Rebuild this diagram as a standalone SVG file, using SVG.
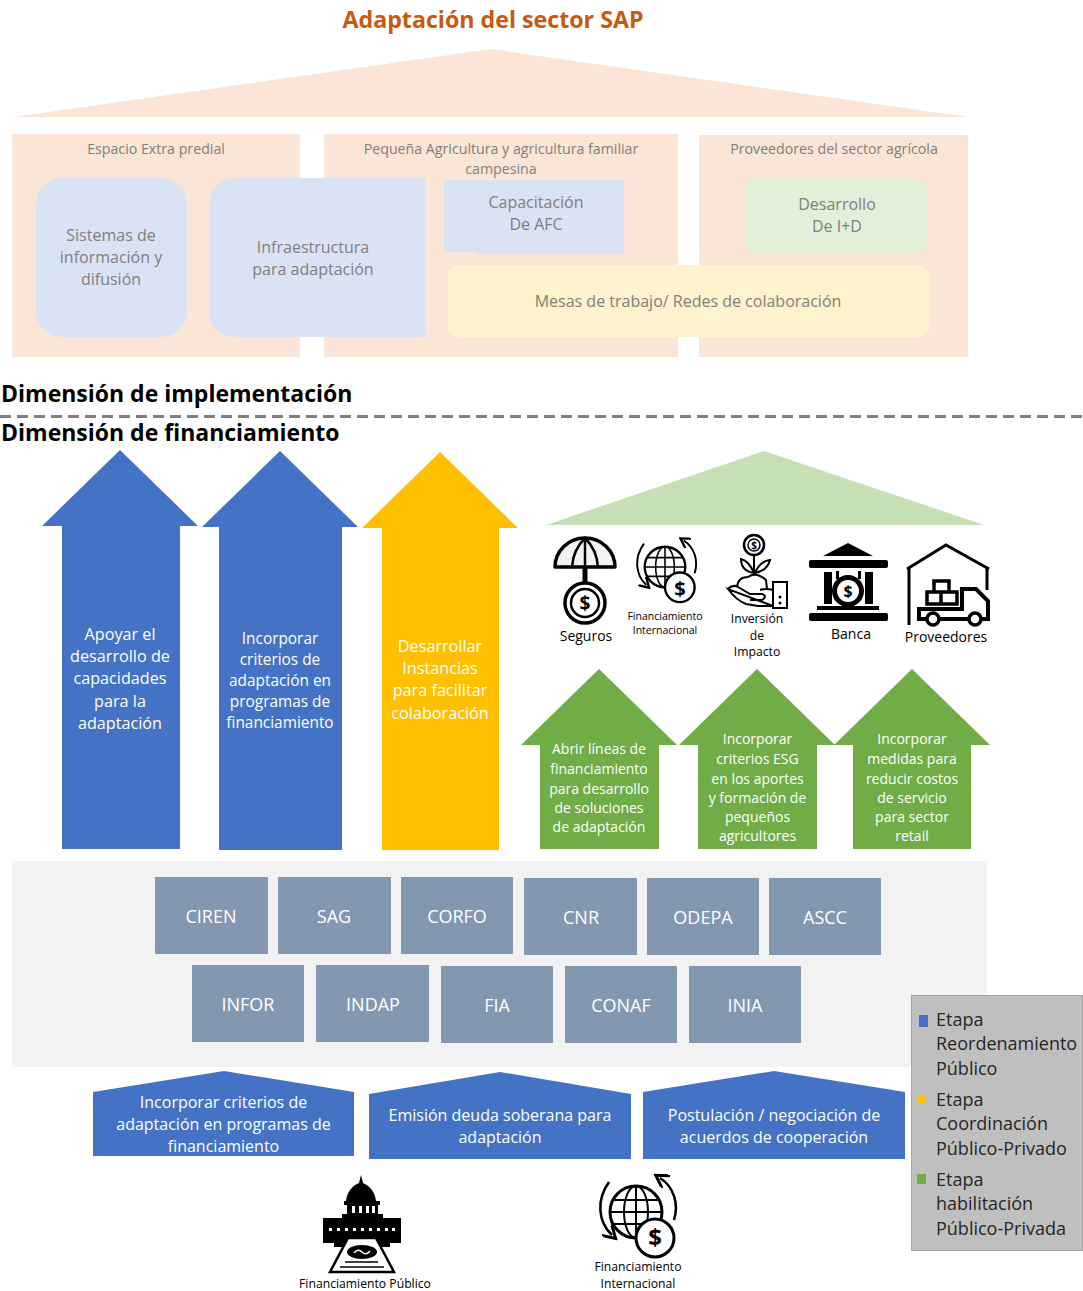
<svg xmlns="http://www.w3.org/2000/svg" width="1083" height="1291" viewBox="0 0 1083 1291">
<style>
text{font-family:"Open Sans","Noto Sans","Liberation Sans",sans-serif;text-anchor:middle}
.g{fill:#7f7f7f;font-size:16px}
.h{fill:#7f7f7f;font-size:14.2px}
.w{fill:#fff;font-size:16px}
.a1{fill:#fff;font-size:16.2px}
.a2{fill:#fff;font-size:15.4px}
.a3{fill:#fff;font-size:16.2px}
.gw{fill:#fff;font-size:14px}
.k{fill:#000;font-size:14px}
.s{fill:#000;font-size:10.500px}
.m{fill:#000;font-size:12.200px}
.d{fill:#000;font-size:23px;font-weight:700;text-anchor:start}
.l{fill:#262626;font-size:18px;text-anchor:start}
.c{fill:#fff;font-size:18px}
.box{fill:#8497b0}
.blue{fill:#4472c4}.yel{fill:#ffc000}.grn{fill:#70ad47}
.i{fill:none;stroke:#000;stroke-width:3}
.t{fill:#000;stroke:none}
.usd{fill:#000;font-weight:700}
</style>
<defs>
<marker id="ah" markerWidth="6" markerHeight="6" refX="3" refY="3" orient="auto"><path d="M0,0L5,3L0,6" fill="none" stroke="#000" stroke-width="1.200"/></marker>
<g id="globe">
<circle cx="0" cy="0" r="26" class="i"/>
<ellipse cx="0" cy="0" rx="12" ry="26" fill="none" stroke="#000" stroke-width="2"/>
<path d="M0,-26V26M-26,0H26M-23,-12H23M-23,12H23" fill="none" stroke="#000" stroke-width="2"/>
<path d="M-27,-30C-40,-12-38,10-24,23" fill="none" stroke="#000" stroke-width="2.500" marker-end="url(#ah)"/>
<path d="M38,8C43,-8 38,-25 24,-34" fill="none" stroke="#000" stroke-width="2.500" marker-end="url(#ah)"/>
<circle cx="19" cy="26" r="19" fill="#fff" stroke="#000" stroke-width="3"/>
</g>
</defs>
<text x="493" y="28" font-weight="700" fill="#c55a11" style="font-size:23.200px">Adaptación del sector SAP</text>
<g id="top-roof"><polygon points="14,117 491,49 968,117" fill="#fbe5d6"/></g>
<g id="panel-extra"><rect x="12" y="134" width="288" height="223" fill="#fbe5d6"/><text class="h" x="156" y="154">Espacio Extra predial</text></g>
<g id="panel-pequena"><rect x="324" y="134" width="354" height="223" fill="#fbe5d6"/><text class="h" x="501" y="154">Pequeña Agricultura y agricultura familiar</text><text class="h" x="501" y="174">campesina</text></g>
<g id="panel-proveedores"><rect x="699" y="135" width="269" height="222" fill="#fbe5d6"/><text class="h" x="834" y="154">Proveedores del sector agrícola</text></g>
<g id="sistemas"><rect x="36" y="178" width="151" height="159" rx="26" fill="#dae3f3"/><text class="g" x="111" y="241">Sistemas de</text><text class="g" x="111" y="263">información y</text><text class="g" x="111" y="285">difusión</text></g>
<g id="infraestructura"><path d="M235,178H426V337H235A26,26 0 0 1 209,311V204A26,26 0 0 1 235,178Z" fill="#dae3f3"/><text class="g" x="313" y="253">Infraestructura</text><text class="g" x="313" y="275">para adaptación</text></g>
<g id="capacitacion"><path d="M444,180H624V254H476V252H444Z" fill="#dae3f3"/><text class="g" x="536" y="208">Capacitación</text><text class="g" x="536" y="230">De AFC</text></g>
<g id="desarrollo"><rect x="746" y="178" width="181" height="75" rx="10" fill="#e2f0d9"/><text class="g" x="837" y="210">Desarrollo</text><text class="g" x="837" y="232">De I+D</text></g>
<g id="mesas"><rect x="448" y="265" width="481" height="72" rx="10" fill="#fff2cc"/><text class="g" x="688" y="307">Mesas de trabajo/ Redes de colaboración</text></g>
<text class="d" x="1" y="402">Dimensión de implementación</text>
<g id="connectors"><line x1="0" y1="416.500" x2="1083" y2="416.500" stroke="#7f7f7f" stroke-width="3" stroke-dasharray="11 6"/></g>
<text class="d" x="1" y="441">Dimensión de financiamiento</text>

<g id="arrow-1"><polygon class="blue" points="120,450 198,526 180,526 180,849 62,849 62,526 42,526"/><text class="a1" x="120" y="640">Apoyar el</text><text class="a1" x="120" y="662">desarrollo de</text><text class="a1" x="120" y="684">capacidades</text><text class="a1" x="120" y="707">para la</text><text class="a1" x="120" y="729">adaptación</text></g>
<g id="arrow-2"><polygon class="blue" points="280,451 358,527 342,527 342,850 219,850 219,527 202,527"/><text class="a2" x="280" y="644">Incorporar</text><text class="a2" x="280" y="665">criterios de</text><text class="a2" x="280" y="686">adaptación en</text><text class="a2" x="280" y="707">programas de</text><text class="a2" x="280" y="728">financiamiento</text></g>
<g id="arrow-3"><polygon class="yel" points="440,452 518,528 499,528 499,850 382,850 382,528 362,528"/><text class="a3" x="440" y="652">Desarrollar</text><text class="a3" x="440" y="674">Instancias</text><text class="a3" x="440" y="696">para facilitar</text><text class="a3" x="440" y="719">colaboración</text></g>
<g id="green-roof"><polygon points="764,451 984,525 546,525" fill="#c5e0b4"/></g>

<g id="seguros">
<path d="M555,567A30,29 0 0 1 615,567Z" fill="#f2f2f2" stroke="#000" stroke-width="3.500" stroke-linejoin="round"/>
<path d="M585,538V567M572,567Q573,550 585,538Q597,550 598,567" fill="none" stroke="#000" stroke-width="2.500"/>
<path d="M585,567V582" fill="none" stroke="#000" stroke-width="5"/>
<circle cx="585" cy="603" r="20" fill="#fff" stroke="#000" stroke-width="3.500"/><circle cx="585" cy="603" r="14" fill="none" stroke="#000" stroke-width="2.500"/>
<text class="usd" x="585" y="610" style="font-size:19px">$</text>
<text class="k" x="586" y="641">Seguros</text></g>
<g id="fin-int-1"><use href="#globe" transform="translate(665,567) scale(.78)"/><text class="usd" x="680" y="596" style="font-size:20px">$</text>
<text class="s" x="665" y="620">Financiamiento</text><text class="s" x="665" y="634">Internacional</text></g>
<g id="inversion">
<circle cx="754" cy="545" r="10" fill="#fff" stroke="#000" stroke-width="2.500"/><circle cx="754" cy="545" r="6" fill="none" stroke="#000" stroke-width="1.500"/>
<text class="usd" x="754" y="549" style="font-size:10px">$</text>
<path d="M754,555V578M754,573Q749,561 741,559Q741,571 754,573M755,573Q760,561 770,560Q767,571 755,573" fill="#fff" stroke="#000" stroke-width="2"/>
<path d="M737,587Q738,577 748,577Q756,571 766,580L767,589" fill="#fff" stroke="#000" stroke-width="2"/>
<path d="M728,589Q733,584 738,587L750,594H762Q768,596 762,600H750M773,590Q766,588 760,590M773,606H758L746,604Q736,600 728,589Z" fill="#fff" stroke="#000" stroke-width="2"/>
<rect x="773" y="582" width="14" height="26" fill="#fff" stroke="#000" stroke-width="2"/>
<circle cx="780" cy="597" r="1.500"/><circle cx="780" cy="603" r="1.500"/>
<text class="k" x="757" y="623" style="font-size:12.200px">Inversión</text><text class="k" x="757" y="640" style="font-size:12.200px">de</text><text class="k" x="757" y="656" style="font-size:12.200px">Impacto</text></g>
<g id="banca">
<polygon class="t" points="848,543 873,556 823,556"/>
<rect class="t" x="809" y="560" width="79" height="8" rx="2"/>
<rect class="t" x="824" y="572" width="8" height="32"/><rect class="t" x="865" y="572" width="8" height="32"/>
<rect class="t" x="836" y="571" width="3" height="8"/><rect class="t" x="858" y="571" width="3" height="8"/>
<rect class="t" x="817" y="606" width="62" height="4"/>
<rect class="t" x="809" y="613" width="79" height="8" rx="2"/>
<circle cx="848" cy="591" r="16" fill="#000"/><circle cx="848" cy="591" r="11" fill="#fff"/>
<text class="usd" x="848" y="597" style="font-size:16px">$</text>
<text class="k" x="851" y="639">Banca</text></g>
<g id="proveedores">
<path d="M907,569L946,545L989,569" class="i" stroke-width="5"/>
<path d="M909,568V625M987,568V590" class="i" stroke-width="4"/>
<path d="M934,581H949V592H957V604H927V592H934ZM927,592H949M941,592V604" fill="#fff" stroke="#000" stroke-width="3.500"/>
<path d="M919,609H962V589H976L988,601V619H919Z" fill="#fff" stroke="#000" stroke-width="4"/>
<circle cx="933" cy="619" r="6" fill="#fff" stroke="#000" stroke-width="3.500"/><circle cx="975" cy="619" r="6" fill="#fff" stroke="#000" stroke-width="3.500"/>
<text class="k" x="946" y="642">Proveedores</text></g>

<g id="green-1"><polygon class="grn" points="599,669 677,745 659,745 659,849 540,849 540,745 521,745"/><text class="gw" x="599" y="754">Abrir líneas de</text><text class="gw" x="599" y="774">financiamiento</text><text class="gw" x="599" y="794">para desarrollo</text><text class="gw" x="599" y="813">de soluciones</text><text class="gw" x="599" y="832">de adaptación</text></g>
<g id="green-2"><polygon class="grn" points="757,669 835,745 817,745 817,849 698,849 698,745 679,745"/><text class="gw" x="757.500" y="744">Incorporar</text><text class="gw" x="757.500" y="764">criterios ESG</text><text class="gw" x="757.500" y="784">en los aportes</text><text class="gw" x="757.500" y="803">y formación de</text><text class="gw" x="757.500" y="822">pequeños</text><text class="gw" x="757.500" y="841">agricultores</text></g>
<g id="green-3"><polygon class="grn" points="912,669 990,745 971,745 971,849 853,849 853,745 834,745"/><text class="gw" x="912" y="744">Incorporar</text><text class="gw" x="912" y="764">medidas para</text><text class="gw" x="912" y="784">reducir costos</text><text class="gw" x="912" y="803">de servicio</text><text class="gw" x="912" y="822">para sector</text><text class="gw" x="912" y="841">retail</text></g>

<g id="institutions-panel"><rect x="12" y="861" width="975" height="206" fill="#f2f2f2"/></g>
<g id="ciren"><rect class="box" x="155" y="877" width="113" height="77"/><text class="c" x="211" y="923">CIREN</text></g>
<g id="sag"><rect class="box" x="278" y="877" width="113" height="77"/><text class="c" x="334" y="923">SAG</text></g>
<g id="corfo"><rect class="box" x="401" y="877" width="112" height="77"/><text class="c" x="457" y="923">CORFO</text></g>
<g id="cnr"><rect class="box" x="524" y="878" width="113" height="77"/><text class="c" x="581" y="924">CNR</text></g>
<g id="odepa"><rect class="box" x="647" y="878" width="112" height="77"/><text class="c" x="703" y="924">ODEPA</text></g>
<g id="ascc"><rect class="box" x="769" y="878" width="112" height="77"/><text class="c" x="825" y="924">ASCC</text></g>
<g id="infor"><rect class="box" x="192" y="965" width="112" height="77"/><text class="c" x="248" y="1011">INFOR</text></g>
<g id="indap"><rect class="box" x="316" y="965" width="113" height="77"/><text class="c" x="373" y="1011">INDAP</text></g>
<g id="fia"><rect class="box" x="441" y="966" width="112" height="77"/><text class="c" x="497" y="1012">FIA</text></g>
<g id="conaf"><rect class="box" x="565" y="966" width="112" height="77"/><text class="c" x="621" y="1012">CONAF</text></g>
<g id="inia"><rect class="box" x="689" y="966" width="112" height="77"/><text class="c" x="745" y="1012">INIA</text></g>

<g id="base-1"><polygon class="blue" points="93,1092 224,1071 354,1092 354,1156 93,1156"/><text class="w" x="223.500" y="1108">Incorporar criterios de</text><text class="w" x="223.500" y="1130">adaptación en programas de</text><text class="w" x="223.500" y="1152">financiamiento</text></g>
<g id="base-2"><polygon class="blue" points="369,1094 500,1072 631,1094 631,1159 369,1159"/><text class="w" x="500" y="1121">Emisión deuda soberana para</text><text class="w" x="500" y="1143">adaptación</text></g>
<g id="base-3"><polygon class="blue" points="643,1092 774,1071 905,1092 905,1159 643,1159"/><text class="w" x="774" y="1121">Postulación / negociación de</text><text class="w" x="774" y="1143">acuerdos de cooperación</text></g>

<g id="fin-publico">
<path class="t" d="M361,1175L363,1183C370,1186 375,1192 376,1201H346C347,1192 352,1186 359,1183Z"/>
<rect class="t" x="344" y="1201" width="36" height="4"/>
<rect class="t" x="347" y="1205" width="31" height="9"/>
<rect class="t" x="342" y="1214" width="41" height="4"/>
<rect class="t" x="323" y="1218" width="78" height="25"/>
<rect class="t" x="334" y="1243" width="56" height="4"/>
<g fill="#fff"><rect x="352" y="1206" width="3" height="7"/><rect x="359" y="1206" width="3" height="7"/><rect x="366" y="1206" width="3" height="7"/><rect x="372" y="1206" width="3" height="7"/>
<rect x="329" y="1228" width="3" height="3"/><rect x="337" y="1228" width="3" height="3"/><rect x="345" y="1228" width="3" height="3"/><rect x="353" y="1228" width="3" height="3"/><rect x="361" y="1228" width="3" height="3"/><rect x="369" y="1228" width="3" height="3"/><rect x="377" y="1228" width="3" height="3"/><rect x="385" y="1228" width="3" height="3"/><rect x="392" y="1228" width="3" height="3"/></g>
<polygon points="348,1238 376,1238 394,1272 330,1272" fill="#fff" stroke="#000" stroke-width="2.500"/>
<path d="M340,1267H384M345,1262H378" fill="none" stroke="#000" stroke-width="1.500"/>
<ellipse cx="362" cy="1252" rx="15" ry="7" fill="#000"/>
<path d="M354,1253Q358,1248 362,1252T370,1251" fill="none" stroke="#fff" stroke-width="1.500"/>
<text class="m" x="365" y="1288">Financiamiento Público</text></g>
<g id="fin-int-2"><use href="#globe" transform="translate(636,1212)"/><text class="usd" x="655" y="1246" style="font-size:24px">$</text>
<text class="m" x="638" y="1270.500">Financiamiento</text><text class="m" x="638" y="1287.500">Internacional</text></g>

<g id="legend"><rect x="911.500" y="995.500" width="171" height="255" fill="#bfbfbf" stroke="#a6a6a6"/>
<rect x="919" y="1015" width="9" height="12" fill="#4472c4"/><rect x="917" y="1095" width="9" height="9" fill="#ffc000"/><rect x="917" y="1174" width="9" height="10" fill="#70ad47"/>
<text class="l" x="936" y="1026">Etapa</text><text class="l" x="936" y="1050">Reordenamiento</text><text class="l" x="936" y="1075">Público</text>
<text class="l" x="936" y="1106">Etapa</text><text class="l" x="936" y="1130">Coordinación</text><text class="l" x="936" y="1155">Público-Privado</text>
<text class="l" x="936" y="1186">Etapa</text><text class="l" x="936" y="1210">habilitación</text><text class="l" x="936" y="1235">Público-Privada</text></g>
</svg>
